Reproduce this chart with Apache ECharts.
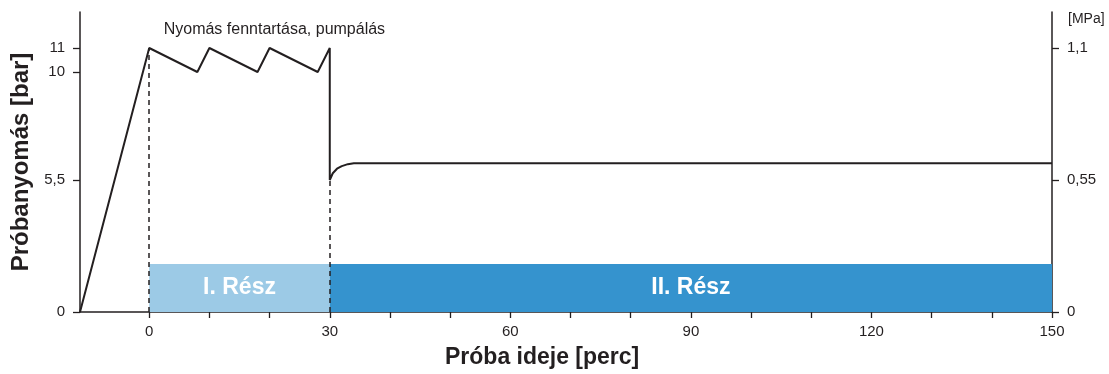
<!DOCTYPE html>
<html>
<head>
<meta charset="utf-8">
<script src="https://cdn.jsdelivr.net/npm/echarts@6/dist/echarts.min.js"></script>
<style>
  html, body { margin: 0; padding: 0; background: #fff; }
  #chart { width: 1109px; height: 374px; }
</style>
</head>
<body>
<div id="chart"></div>
<script>
// Pressure curve: time [min] and pressure [bar]
const timeMin = [-11.5, 0, 8, 10, 18, 20, 28, 30, 30, 30.5, 31.2, 32, 33, 34, 150];
const pressureBar = [0, 11, 10, 11, 10, 11, 10, 11, 5.5, 5.78, 5.97, 6.08, 6.16, 6.2, 6.2];

// Test phases shown as bands along the bottom
const phaseNames = ['I. Rész', 'II. Rész'];
const phaseStart = [0, 30];
const phaseEnd = [30, 150];
const phaseHeight = [2, 2];

// Dashed markers from the axis up to the curve
const markerTime = [0, 30];
const markerPressure = [11, 5.5];

// Axis ticks and labels
const xTickValues = [0, 10, 20, 30, 40, 50, 60, 70, 80, 90, 100, 110, 120, 130, 140, 150];
const xLabelValues = [0, 30, 60, 90, 120, 150];
const barTicks = [0, 5.5, 10, 11];
const mpaTicks = [0, 0.55, 1.1];

const ink = '#231f20';
const phaseColors = ['#9ccae6', '#3593ce'];
const font = 'Arial, "Liberation Sans", Helvetica, sans-serif';
const comma = v => String(v).replace('.', ',');

const chart = echarts.init(document.getElementById('chart'), null, { renderer: 'canvas' });

const lineData = timeMin.map((t, i) => [t, pressureBar[i]]);

chart.setOption({
  animation: false,
  backgroundColor: '#fff',
  grid: { left: 80, right: 57, top: 12, bottom: 62, containLabel: false },
  xAxis: {
    type: 'value',
    min: -11.5,
    max: 150,
    axisLine: { show: true, onZero: false, lineStyle: { color: ink, width: 1.5 } },
    axisTick: { show: true, customValues: xTickValues, length: 6, lineStyle: { color: ink, width: 1.3 } },
    axisLabel: { customValues: xLabelValues, color: ink, fontSize: 15, fontFamily: font, margin: 12 },
    splitLine: { show: false }
  },
  yAxis: [
    {
      type: 'value',
      min: 0,
      max: 12.5,
      position: 'left',
      axisLine: { show: true, onZero: false, lineStyle: { color: ink, width: 1.5 } },
      axisTick: { show: true, customValues: barTicks, length: 7, lineStyle: { color: ink, width: 1.3 } },
      axisLabel: { customValues: barTicks, formatter: comma, color: ink, fontSize: 15, fontFamily: font, margin: 15 },
      splitLine: { show: false },
      name: 'Próbanyomás [bar]',
      nameLocation: 'middle',
      nameGap: 42,
      nameTextStyle: { color: ink, fontSize: 24, fontWeight: 'bold', fontFamily: font }
    },
    {
      type: 'value',
      min: 0,
      max: 1.25,
      position: 'right',
      axisLine: { show: true, onZero: false, lineStyle: { color: ink, width: 1.5 } },
      axisTick: { show: true, inside: false, customValues: mpaTicks, length: 7, lineStyle: { color: ink, width: 1.3 } },
      axisLabel: { customValues: mpaTicks, formatter: comma, color: ink, fontSize: 15, fontFamily: font, margin: 15 },
      splitLine: { show: false }
    }
  ],
  graphic: [
    {
      type: 'text',
      left: 1068,
      top: 12,
      style: { text: '[MPa]', fill: ink, font: '14px ' + font }
    },
    {
      type: 'text',
      left: 445,
      top: 346,
      style: { text: 'Próba ideje [perc]', fill: ink, font: 'bold 23px ' + font }
    }
  ],
  series: [
    {
      type: 'line',
      data: lineData,
      showSymbol: false,
      symbol: 'none',
      lineStyle: { color: ink, width: 2 },
      z: 5,
      markArea: {
        silent: true,
        z: 1,
        data: phaseNames.map((name, i) => [
          {
            name: name,
            coord: [phaseStart[i], 0],
            itemStyle: { color: phaseColors[i] },
            label: {
              show: true,
              position: 'inside',
              color: '#fff',
              fontSize: 23,
              fontWeight: 'bold',
              fontFamily: font
            }
          },
          { coord: [phaseEnd[i], phaseHeight[i]] }
        ])
      },
      markLine: {
        silent: true,
        symbol: ['none', 'none'],
        label: { show: false },
        lineStyle: { color: ink, width: 1.5, type: [5, 4] },
        data: markerTime.map((t, i) => [
          { coord: [t, 0] },
          { coord: [t, markerPressure[i]] }
        ])
      }
    },
    {
      type: 'line',
      data: [],
      markPoint: {
        symbol: 'circle',
        symbolSize: 0,
        label: {
          show: true,
          formatter: 'Nyomás fenntartása, pumpálás',
          color: ink,
          fontSize: 16,
          fontFamily: font,
          position: 'inside'
        },
        data: [{ coord: [20.8, 11.75] }]
      }
    }
  ]
});
</script>
</body>
</html>
